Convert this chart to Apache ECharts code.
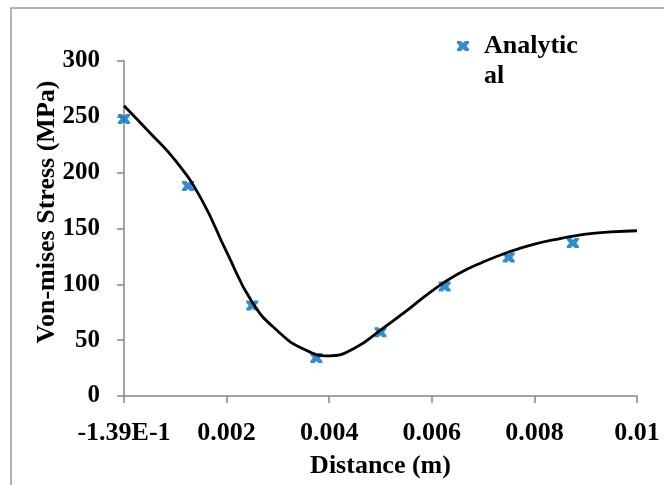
<!DOCTYPE html>
<html>
<head>
<meta charset="utf-8">
<script src="https://cdn.jsdelivr.net/npm/echarts@6/dist/echarts.min.js"></script>
<style>
  html, body { margin: 0; padding: 0; background: #fff; }
  #chart { width: 664px; height: 485px; }
</style>
</head>
<body>
<div id="chart"></div>
<script>
// 解析解的离散点
const pointX = [0, 0.00125, 0.0025, 0.00375, 0.005, 0.00625, 0.0075, 0.00875]
const pointY = [248, 188, 81, 34, 57, 98, 124, 137]

// 平滑曲线
const curveX = [0, 0.0005, 0.001, 0.0015, 0.002, 0.0025, 0.003, 0.0035, 0.004, 0.0045, 0.005,
  0.0055, 0.006, 0.0065, 0.007, 0.0075, 0.008, 0.0085, 0.009, 0.0095, 0.01]
const curveY = [260, 236, 211, 177, 129, 84, 58, 42, 36, 43, 59,
  76, 94, 109, 120, 129, 136, 141, 145, 147, 148]

const xTicks = [0, 0.002, 0.004, 0.006, 0.008, 0.01]
const xTickLabels = ['-1.39E-1', '0.002', '0.004', '0.006', '0.008', '0.01']

const font = 'Liberation Serif'
const axisGray = '#868686'
// 粗 x 形标记
const xMark = 'path://M0,0 L4,0 L6,2 L8,0 L12,0 L12,2 L9.5,5 L12,8 L12,10 L8,10 L6,8 L4,10 L0,10 L0,8 L2.5,5 L0,2 Z'

const chart = echarts.init(document.getElementById('chart'))

const option = {
  animation: false,
  backgroundColor: '#fff',
  grid: { left: 124, right: 27, top: 61, bottom: 89, containLabel: false },
  legend: {
    data: ['Analytical'],
    left: 457,
    top: 1,
    padding: 0,
    itemWidth: 12,
    itemHeight: 10,
    formatter: () => '\nAnalytic\nal',
    textStyle: {
      fontFamily: font, fontWeight: 'bold', fontSize: 26, color: '#000',
      lineHeight: 30, padding: [0, 0, 0, 10]
    }
  },
  xAxis: {
    type: 'value',
    min: 0,
    max: 0.01,
    interval: 0.002,
    splitLine: { show: false },
    axisLine: { lineStyle: { color: axisGray, width: 1.5 } },
    axisTick: { length: 7, lineStyle: { color: axisGray, width: 1.5 } },
    axisLabel: {
      margin: 24,
      fontFamily: font, fontWeight: 'bold', fontSize: 26, color: '#000',
      formatter: v => {
        const i = xTicks.findIndex(t => Math.abs(t - v) < 1e-9)
        return i >= 0 ? xTickLabels[i] : ''
      }
    },
    name: 'Distance (m)',
    nameLocation: 'middle',
    nameGap: 57,
    nameTextStyle: { fontFamily: font, fontWeight: 'bold', fontSize: 26, color: '#000' }
  },
  yAxis: {
    type: 'value',
    min: 0,
    max: 300,
    interval: 50,
    splitLine: { show: false },
    axisLine: { show: true, lineStyle: { color: axisGray, width: 1.5 } },
    axisTick: { show: true, length: 7, lineStyle: { color: axisGray, width: 1.5 } },
    axisLabel: {
      margin: 24,
      fontFamily: font, fontWeight: 'bold', fontSize: 25, color: '#000'
    }
  },
  graphic: [
    {
      type: 'rect',
      shape: { x: 11, y: 8, width: 700, height: 520 },
      style: { fill: 'none', stroke: '#9a9a9a', lineWidth: 1.5 },
      silent: true
    },
    {
      type: 'text',
      x: 47,
      y: 212,
      rotation: Math.PI / 2,
      style: {
        text: 'Von-mises Stress (MPa)',
        fontFamily: font, fontWeight: 'bold', fontSize: 26, fill: '#000',
        align: 'center', verticalAlign: 'middle'
      }
    }
  ],
  series: [
    {
      name: 'Analytical',
      type: 'scatter',
      symbol: xMark,
      symbolSize: [12, 10],
      itemStyle: { color: '#0070C0' },
      data: pointX.map((x, i) => [x, pointY[i]]),
      z: 2
    },
    {
      name: 'curve',
      type: 'line',
      smooth: 0.5,
      showSymbol: false,
      symbol: 'none',
      lineStyle: { color: '#000', width: 2.8 },
      data: curveX.map((x, i) => [x, curveY[i]]),
      z: 3
    }
  ]
}

chart.setOption(option)
</script>
</body>
</html>
